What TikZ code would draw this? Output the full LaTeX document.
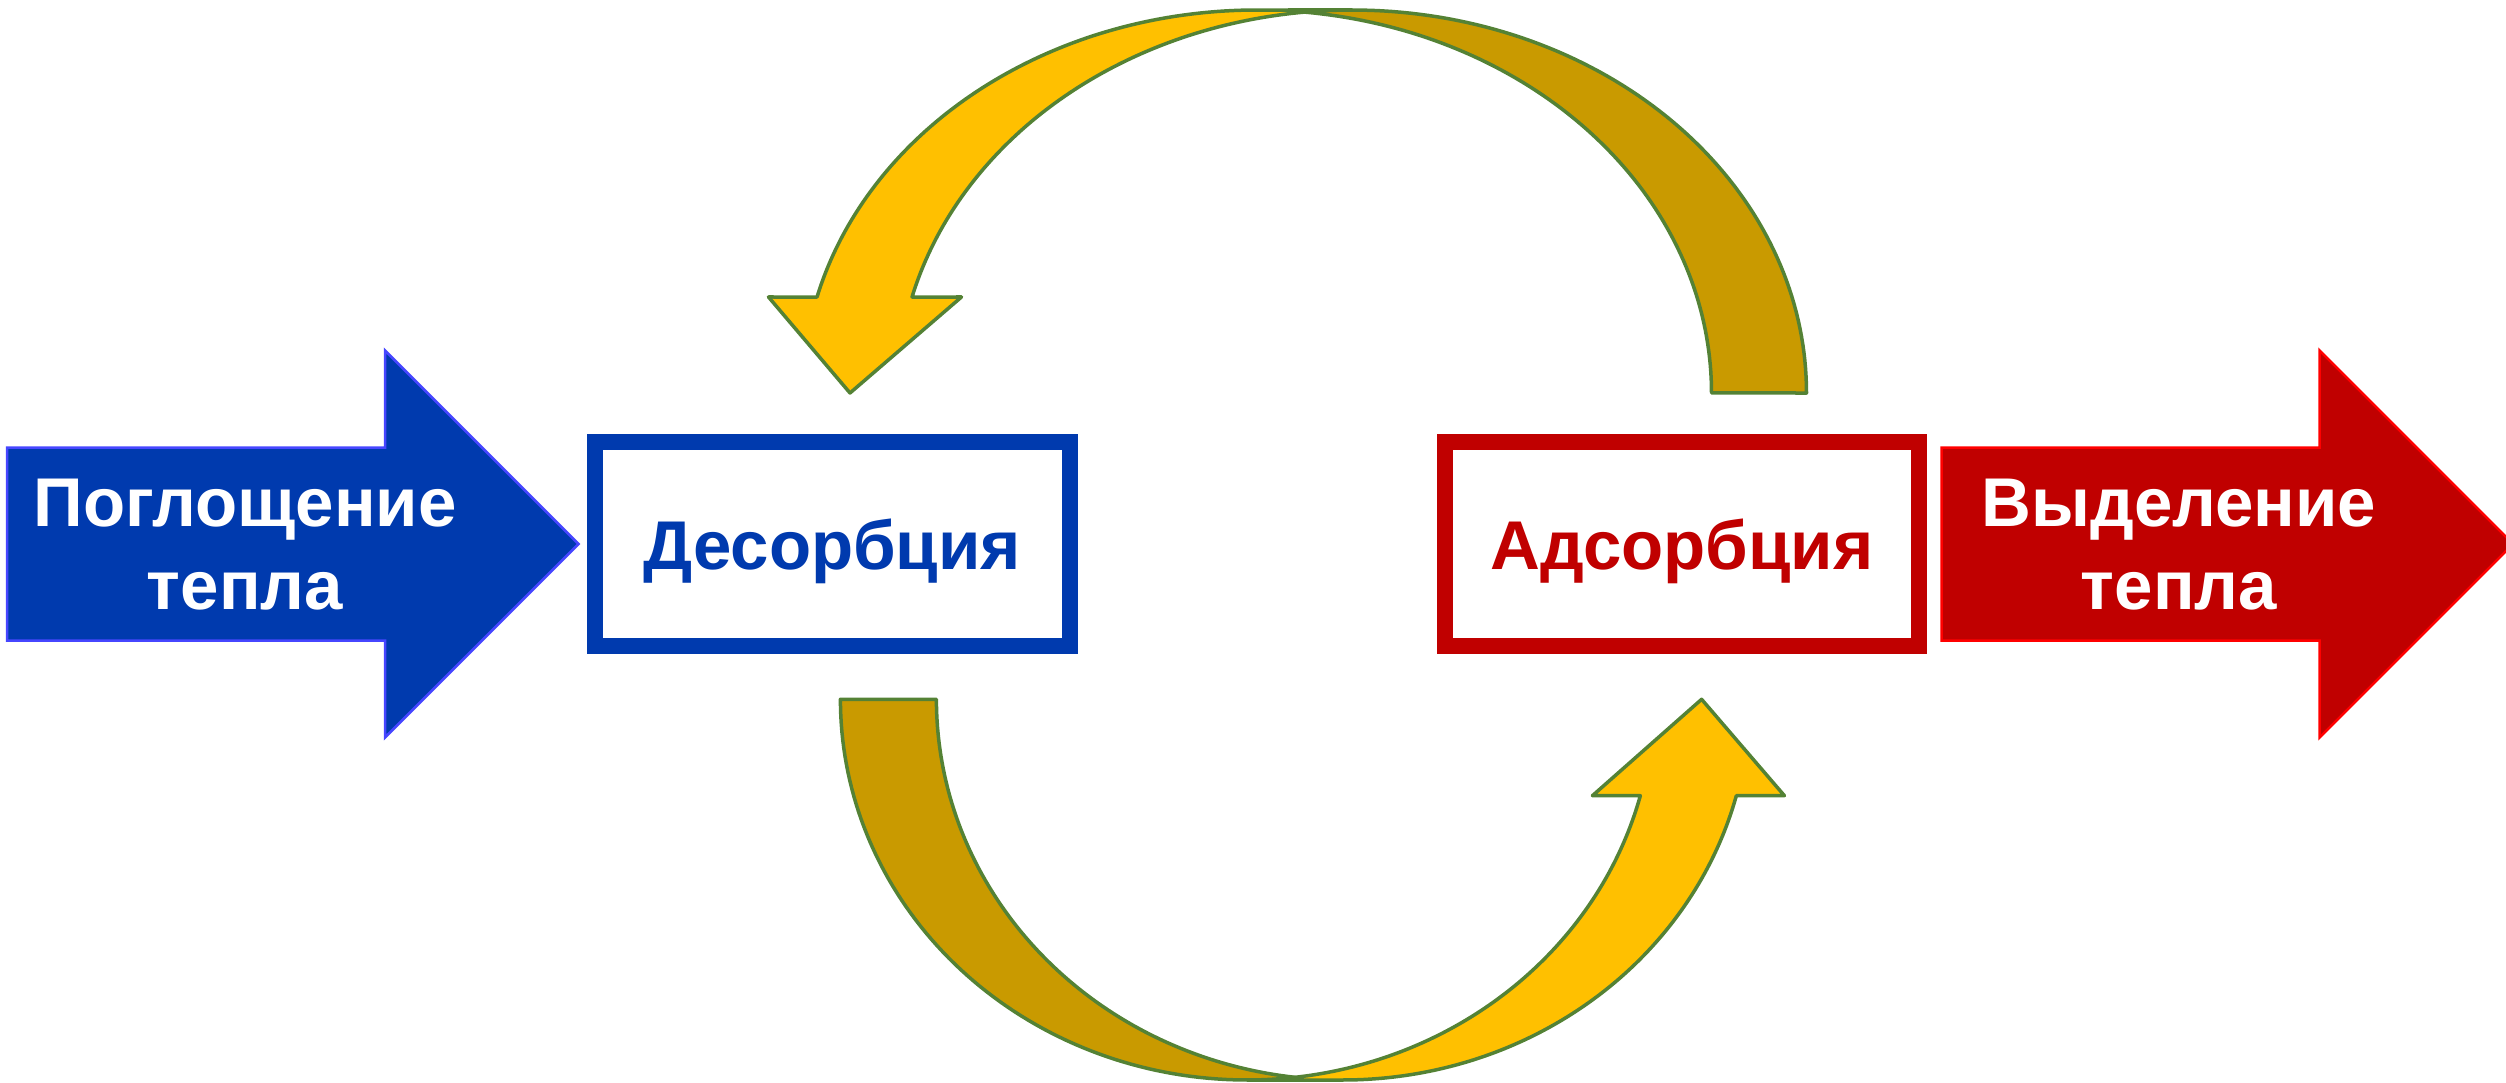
\documentclass[tikz,border=0pt]{standalone}
\usepackage{fontspec}
\setmainfont{Liberation Sans}
\definecolor{arrblue}{RGB}{0,58,174}
\definecolor{arrblueline}{RGB}{70,70,255}
\definecolor{arrred}{RGB}{192,0,0}
\definecolor{arrredline}{RGB}{255,0,0}
\definecolor{goldfront}{RGB}{255,192,0}
\definecolor{goldback}{RGB}{201,154,0}
\definecolor{bendline}{RGB}{84,130,53}
\tikzset{
  bigtxt/.style={font=\fontsize{69}{83}\selectfont\bfseries, inner sep=0pt},
  procbox/.style={draw=#1, line width=16pt, fill=white, text=#1,
    minimum width=474.8pt, minimum height=204pt, inner sep=0pt,
    font=\fontsize{69}{83}\selectfont\bfseries, text height=60pt, text depth=10pt},
  bigarrow/.style={line width=2.5pt, line join=miter},
  bendfront/.style={fill=goldfront, draw=bendline, line width=3.5pt, line join=round},
  bendback/.style={fill=goldback, draw=bendline, line width=3.5pt, line join=round},
}
\begin{document}
\begin{tikzpicture}[x=1pt, y=-1pt]
\useasboundingbox (0,0) rectangle (2506,1083);

% big input arrow (blue)
\filldraw[bigarrow, fill=arrblue, draw=arrblueline]
  (7,447.5) -- (385,447.5) -- (385,350.5) -- (578.5,544) -- (385,737.5)
  -- (385,640.5) -- (7,640.5) -- cycle;
\node[bigtxt, text=white, align=center] (absorb) at (245,545) {Поглощение\\тепла};

% big output arrow (red)
\filldraw[bigarrow, fill=arrred, draw=arrredline]
  (1941.7,447.5) -- (2319.5,447.5) -- (2319.5,350.5) -- (2513,544) -- (2319.5,737.5)
  -- (2319.5,640.5) -- (1941.7,640.5) -- cycle;
\node[bigtxt, text=white, align=center] (release) at (2179,545) {Выделение\\тепла};

% process boxes
\node[procbox=arrblue] (des) at (832.1,544) {Десорбция};
\node[procbox=arrred] (ads) at (1682,544) {Адсорбция};

% top curved arrow: front (with head) then back
\filldraw[bendfront]
  (850,393) -- (768.5,297)
  -- plot[domain=194.517:270, samples=80] ({1257+454.5*cos(\x)}, {393+383*sin(\x)})
  -- (1352,10)
  -- plot[domain=270:194.517, samples=80] ({1352+454.5*cos(\x)}, {393+383*sin(\x)})
  -- (961.5,297) -- cycle;
\filldraw[bendback]
  plot[domain=276:360, samples=80] ({1257+454.5*cos(\x)}, {393+383*sin(\x)})
  -- (1806.5,393)
  -- plot[domain=360:264, samples=80] ({1352+454.5*cos(\x)}, {393+383*sin(\x)})
  -- cycle;

% bottom curved arrow: front (with head) then back
\filldraw[bendfront]
  (1701.6,699.3) -- (1784.4,795.7)
  -- plot[domain=14.668:90, samples=80] ({1343+406.6*cos(\x)}, {699.3+380.7*sin(\x)})
  -- (1247,1080)
  -- plot[domain=90:14.668, samples=80] ({1247+406.6*cos(\x)}, {699.3+380.7*sin(\x)})
  -- (1592.4,795.7) -- cycle;
\filldraw[bendback]
  plot[domain=96.78:180, samples=80] ({1343+406.6*cos(\x)}, {699.3+380.7*sin(\x)})
  -- (840.4,699.3)
  -- plot[domain=180:83.22, samples=80] ({1247+406.6*cos(\x)}, {699.3+380.7*sin(\x)})
  -- cycle;
\end{tikzpicture}
\end{document}
